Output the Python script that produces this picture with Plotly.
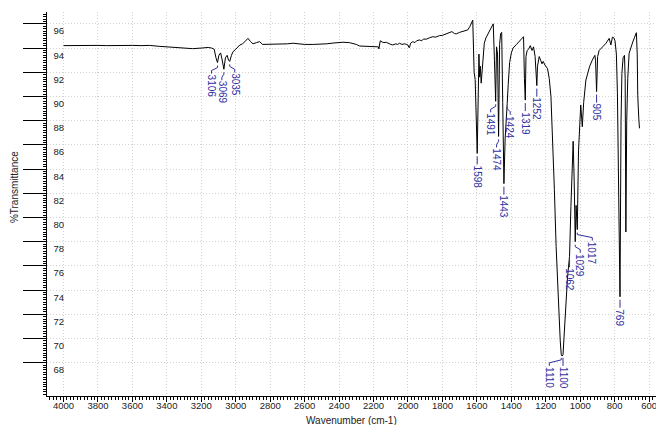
import plotly.graph_objects as go

# ---------------- data ----------------
wavenumber = [
    4000, 3950, 3900, 3850, 3800, 3750, 3700, 3650, 3600, 3550, 3500, 3450, 3400, 3350, 3300, 3250,
    3200, 3160, 3140, 3125, 3115, 3106, 3098, 3088, 3080, 3069, 3060, 3050, 3042, 3035, 3025, 3016,
    3000, 2977, 2960, 2948, 2929, 2915, 2900, 2880, 2861, 2845, 2800, 2764, 2700, 2668, 2600, 2550,
    2513, 2474, 2430, 2378, 2340, 2320, 2300, 2281, 2240, 2200, 2184, 2172, 2169, 2164, 2161, 2150,
    2140, 2126, 2110, 2100, 2088, 2070, 2060, 2049, 2035, 2020, 2010, 2000, 1995, 1991, 1985, 1972,
    1960, 1950, 1933, 1920, 1910, 1894, 1875, 1856, 1840, 1817, 1800, 1778, 1760, 1745, 1730, 1720,
    1700, 1682, 1665, 1653, 1640, 1624, 1616, 1610, 1598, 1592, 1588, 1584, 1580, 1575, 1570, 1563,
    1557, 1547, 1530, 1515, 1505, 1498, 1491, 1486, 1480, 1474, 1468, 1462, 1456, 1450, 1443, 1436,
    1429, 1424, 1418, 1410, 1400, 1390, 1370, 1350, 1335, 1329, 1324, 1319, 1315, 1308, 1300, 1290,
    1280, 1271, 1262, 1256, 1252, 1248, 1238, 1230, 1222, 1215, 1205, 1190, 1180, 1170, 1160, 1150,
    1140, 1125, 1116, 1110, 1105, 1100, 1095, 1087, 1074, 1068, 1062, 1054, 1048, 1041, 1035, 1029,
    1024, 1017, 1010, 1004, 997, 988, 980, 967, 955, 945, 930, 915, 911, 905, 899, 890,
    870, 850, 832, 822, 813, 805, 798, 790, 784, 776, 769, 763, 758, 751, 743, 739,
    735, 730, 724, 716, 708, 695, 684, 674, 669, 666, 660, 656,
]
transmittance = [
    94.2, 94.22, 94.18, 94.2, 94.22, 94.2, 94.22, 94.2, 94.22, 94.2, 94.22, 94.15, 94.1, 94.0, 93.95, 93.95,
    94.0, 94.05, 94.0, 93.9, 93.2, 92.8, 93.4, 93.6, 93.1, 92.25, 93.2, 93.4, 93.0, 92.9, 93.4, 93.7,
    93.9, 94.25, 94.35, 94.5, 94.8, 94.55, 94.35, 94.45, 94.53, 94.3, 94.3, 94.31, 94.35, 94.4, 94.3, 94.3,
    94.31, 94.35, 94.42, 94.48, 94.45, 94.4, 94.3, 94.17, 94.15, 94.12, 94.12, 94.1, 93.93, 94.3, 94.6, 94.5,
    94.45, 94.48, 94.35, 94.3, 94.26, 94.35, 94.3, 94.4, 94.3, 94.35, 94.31, 94.25, 94.05, 94.05, 94.4, 94.53,
    94.45, 94.6, 94.67, 94.6, 94.75, 94.73, 94.85, 94.94, 94.9, 95.03, 95.05, 95.17, 95.25, 95.36, 95.2, 95.17,
    95.3, 95.36, 95.4, 95.5, 95.8, 96.3, 92.0, 91.4, 85.3, 91.0, 93.5, 91.6, 92.5, 91.1, 92.3, 93.5,
    94.4, 94.85, 95.3, 95.8, 96.0, 93.0, 89.6, 94.1, 93.5, 86.7, 94.3, 95.2, 95.3, 89.5, 82.8, 86.5,
    89.0, 89.4, 91.0, 92.8, 93.6, 94.0, 94.3, 94.6, 94.9, 94.94, 91.5, 89.7, 93.3, 93.8, 93.9, 94.2,
    93.8, 94.1, 93.3, 91.2, 90.9, 92.5, 93.3, 93.0, 92.7, 92.9, 92.6, 92.3, 91.5, 90.0, 86.5, 82.3,
    77.6, 72.1, 69.8, 68.65, 68.55, 68.65, 70.0, 72.1, 75.0, 75.9, 76.8, 80.9, 83.5, 86.3, 83.0, 78.0,
    81.0, 79.0, 85.5, 88.0, 89.3, 87.5, 89.5, 91.36, 92.0, 92.5, 93.0, 93.4, 93.0, 90.4, 93.3, 93.8,
    94.1, 94.4, 94.8, 94.26, 94.9, 94.85, 94.6, 93.5, 90.3, 82.0, 73.45, 88.0, 91.9, 93.2, 93.4, 91.5,
    78.8, 88.0, 91.5, 93.57, 94.0, 94.5, 94.9, 95.27, 93.5, 90.1, 88.2, 87.37,
]

peak_labels = ["3106", "3069", "3035", "1598", "1491", "1474", "1443", "1424", "1319",
               "1252", "1110", "1100", "1062", "1029", "1017", "905", "769"]
peak_wavenumber = [3106, 3069, 3035, 1598, 1491, 1474, 1443, 1424, 1319,
                   1252, 1110, 1100, 1062, 1029, 1017, 905, 769]

x_tick_values = list(range(4000, 599, -200))
x_mid_tick_values = list(range(3900, 599, -200))
y_tick_values = list(range(68, 97, 2))

# ---------------- style ----------------
FONT = "Arial, Liberation Sans, sans-serif"
BLUE = "#2f2f9f"
GRID = "#d2d2d2"
X_RANGE = [4096, 560]
# pixel offsets of each peak label (horizontal shift of label relative to peak)
label_dx = [-6, -2, 5, 0, -5, -2, 0, 3, 0, 0, -12, 0, 0, 5, 15, 0, 0]

fig = go.Figure()
fig.add_trace(go.Scatter(x=wavenumber, y=transmittance, mode="lines",
                         line=dict(color="black", width=1), hoverinfo="skip",
                         showlegend=False))

lookup = dict(zip(wavenumber, transmittance))
shapes = []
annotations = []
for lab, wn, dx in zip(peak_labels, peak_wavenumber, label_dx):
    t = lookup[wn]
    if dx == 0:
        path = "M0,-3 L0,-11"
    else:
        path = f"M0,-3 L0,-5 L{dx},-8 L{dx},-11"
    shapes.append(dict(type="path", xref="x", yref="y", xsizemode="pixel",
                       ysizemode="pixel", xanchor=wn, yanchor=t, path=path,
                       line=dict(color=BLUE, width=1)))
    annotations.append(dict(x=wn, y=t, xref="x", yref="y", text=lab, textangle=90,
                            showarrow=False, xanchor="center", yanchor="top",
                            xshift=dx, yshift=-10,
                            font=dict(family=FONT, size=10, color=BLUE)))

annotations.append(dict(x=0, y=0.544, xref="paper", yref="paper", text="%Transmittance",
                        textangle=-90, showarrow=False, xanchor="center", yanchor="middle",
                        xshift=-33, font=dict(family=FONT, size=10, color="#222")))
annotations.append(dict(x=0.5, y=0, xref="paper", yref="paper", text="Wavenumber (cm-1)",
                        showarrow=False, xanchor="center", yanchor="middle",
                        yshift=-24, font=dict(family=FONT, size=10, color="#222")))

fig.update_layout(
    width=656, height=425,
    margin=dict(l=47, r=0, t=12, b=29, autoexpand=False),
    plot_bgcolor="white", paper_bgcolor="white",
    font=dict(family=FONT, size=10, color="#222"),
    shapes=shapes, annotations=annotations,
    xaxis=dict(range=X_RANGE, tickvals=x_tick_values, automargin=False,
               ticks="outside", ticklen=5, tickcolor="black", tickwidth=1,
               ticklabelstandoff=-4, ticklabeloverflow="allow",
               showline=True, linecolor="black", linewidth=1,
               showgrid=True, gridcolor=GRID, griddash="1px,2px", gridwidth=1,
               zeroline=False,
               minor=dict(dtick=20, ticks="outside", ticklen=3, tickcolor="black",
                          showgrid=False),
               tickfont=dict(family=FONT, size=9.5, color="#222")),
    xaxis2=dict(range=X_RANGE, overlaying="x", anchor="y", side="bottom",
                tickvals=x_mid_tick_values, ticks="outside", ticklen=5,
                tickcolor="black", tickwidth=1, showticklabels=False,
                showgrid=False, showline=False, zeroline=False, automargin=False),
    yaxis=dict(range=[65.25, 96.98], tickvals=y_tick_values, automargin=False,
               ticks="outside", ticklen=23, tickcolor="black", tickwidth=1,
               ticklabelposition="outside bottom", ticklabelstandoff=-20,
               showline=True, linecolor="black", linewidth=1,
               showgrid=True, gridcolor=GRID, griddash="1px,2px", gridwidth=1,
               zeroline=False,
               minor=dict(dtick=0.2, ticks="outside", ticklen=3, tickcolor="black",
                          showgrid=False),
               tickfont=dict(family=FONT, size=9.5, color="#222")),
)

fig.write_html("out.html", config={"displayModeBar": False},
               post_script="document.body.style.margin='0px';document.body.style.padding='0px';")
